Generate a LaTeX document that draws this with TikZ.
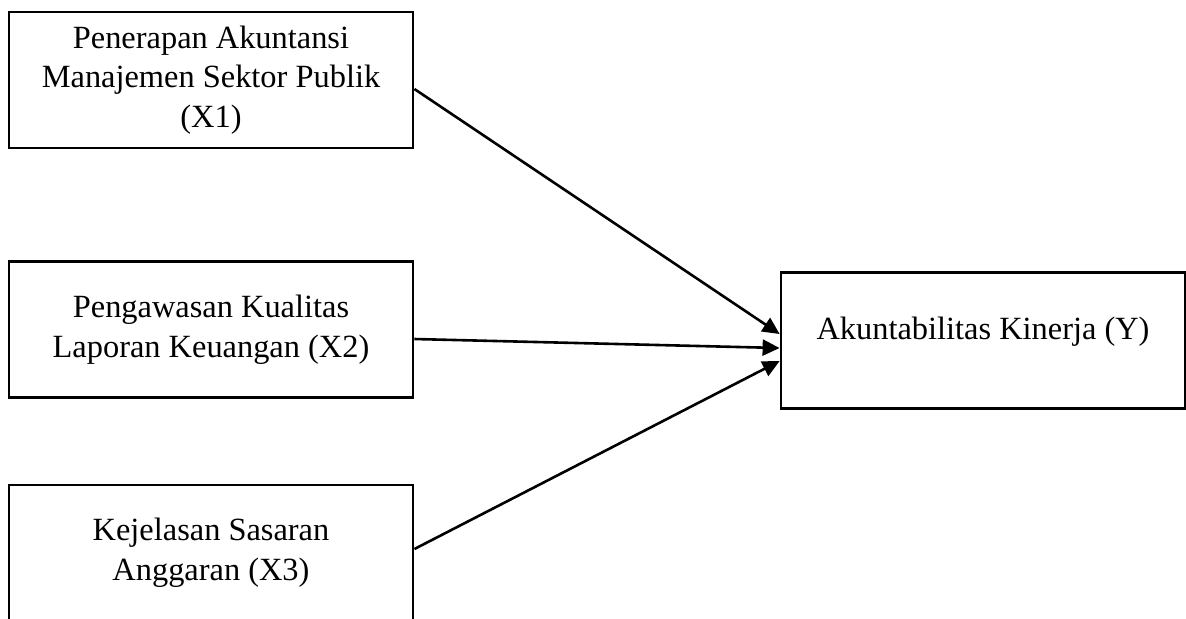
\documentclass[tikz,border=0pt]{standalone}
\usepackage{fontspec}
\setmainfont{Liberation Serif}
\usepackage{tikz}
\usetikzlibrary{arrows.meta,positioning,calc}

\begin{document}
\begin{tikzpicture}[x=0.5pt,y=-0.5pt,
  var/.style={rectangle,draw,line width=1.4pt,minimum width=202pt,minimum height=68pt,align=center,font=\fontsize{16.2}{19.8}\selectfont},
  arr/.style={-{Triangle[length=8.5pt,width=8pt]},line width=1.3pt}]
\useasboundingbox (0,0) rectangle (1186,618);
\node[var] (x1) at (211,80) {Penerapan Akuntansi\\Manajemen Sektor Publik\\(X1)};
\node[var] (x2) at (211,329.5) {Pengawasan Kualitas\\Laporan Keuangan (X2)};
\node[var] (x3) at (211,553) {Kejelasan Sasaran\\Anggaran (X3)};
\node[var,text depth=12pt] (y) at (983,340.5) {Akuntabilitas Kinerja (Y)};
\draw[arr] ([yshift=-4.5pt]x1.east) -- ([yshift=3.25pt]y.west);
\draw[arr] ([yshift=-4.75pt]x2.east) -- ([yshift=-3.75pt]y.west);
\draw[arr] ([yshift=2pt]x3.east) -- ([yshift=-10.25pt]y.west);
\end{tikzpicture}
\end{document}
